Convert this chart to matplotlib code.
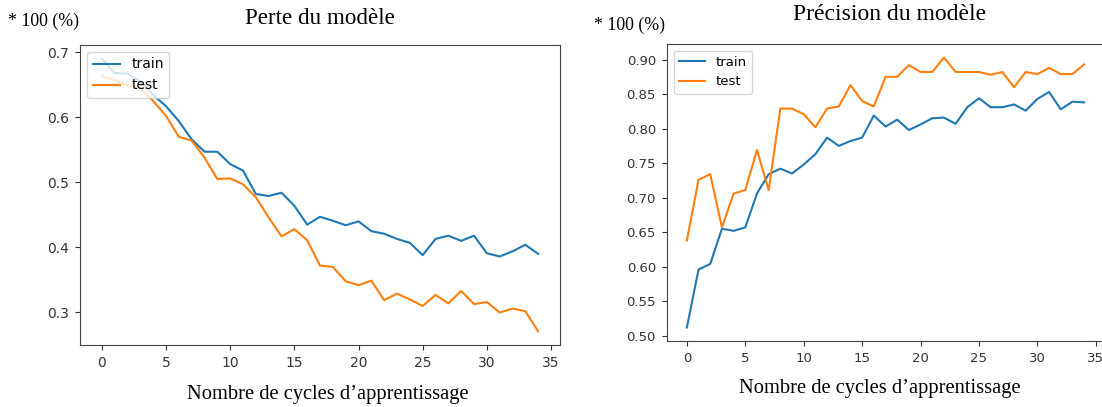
import numpy as np
import matplotlib.pyplot as plt

epochs = np.arange(35)

loss_train = [0.690, 0.668, 0.667, 0.655, 0.634, 0.617, 0.594, 0.566, 0.547, 0.547,
              0.528, 0.518, 0.482, 0.479, 0.484, 0.464, 0.435, 0.447, 0.441, 0.434,
              0.440, 0.425, 0.421, 0.413, 0.407, 0.388, 0.413, 0.418, 0.410, 0.418,
              0.391, 0.386, 0.394, 0.404, 0.390]
loss_test = [0.663, 0.657, 0.649, 0.645, 0.625, 0.602, 0.570, 0.564, 0.538, 0.505,
             0.506, 0.497, 0.477, 0.446, 0.417, 0.428, 0.411, 0.372, 0.370, 0.348,
             0.342, 0.349, 0.319, 0.329, 0.320, 0.310, 0.327, 0.314, 0.333, 0.313,
             0.316, 0.300, 0.306, 0.302, 0.271]

acc_train = [0.512, 0.596, 0.604, 0.655, 0.652, 0.657, 0.706, 0.734, 0.742, 0.735,
             0.748, 0.763, 0.787, 0.775, 0.782, 0.787, 0.819, 0.803, 0.813, 0.798,
             0.806, 0.815, 0.816, 0.807, 0.831, 0.844, 0.831, 0.831, 0.835, 0.826,
             0.843, 0.853, 0.828, 0.839, 0.838]
acc_test = [0.638, 0.726, 0.734, 0.657, 0.706, 0.711, 0.769, 0.711, 0.829, 0.829,
            0.821, 0.802, 0.829, 0.832, 0.863, 0.840, 0.832, 0.875, 0.875, 0.892,
            0.882, 0.882, 0.903, 0.882, 0.882, 0.882, 0.878, 0.882, 0.860, 0.882,
            0.879, 0.888, 0.879, 0.879, 0.893]

W, H = 1102, 407
fig = plt.figure(figsize=(W / 100, H / 100), dpi=100)

def px_axes(x0, y0, x1, y1):
    # axes box given in pixel coordinates from the top-left corner
    return fig.add_axes([x0 / W, 1 - y1 / H, (x1 - x0) / W, (y1 - y0) / H])

def px_text(x, y, s, size):
    fig.text(x / W, 1 - y / H, s, ha='center', va='center', fontsize=size,
             family='Liberation Serif')

ax1 = px_axes(80, 45, 560, 345)
ax1.plot(epochs, loss_train, label='train')
ax1.plot(epochs, loss_test, label='test')
ax1.set_yticks([0.3, 0.4, 0.5, 0.6, 0.7])
ax1.tick_params(labelsize=10)
ax1.legend(loc='upper left', fontsize=10)

ax2 = px_axes(667, 44, 1104, 341)
ax2.plot(epochs, acc_train, label='train')
ax2.plot(epochs, acc_test, label='test')
ax2.set_yticks(np.arange(0.50, 0.91, 0.05))
ax2.yaxis.set_major_formatter(plt.FormatStrFormatter('%.2f'))
ax2.tick_params(labelsize=9.5)
ax2.legend(loc='upper left', fontsize=9.5)

for ax in (ax1, ax2):
    ax.set_xticks(range(0, 36, 5))
    for s in ax.spines.values():
        s.set_color('#444444')
    ax.tick_params(colors='#333333', pad=4.5)

px_text(320, 18, 'Perte du modèle', 16.6)
px_text(890, 15, 'Précision du modèle', 17)
px_text(43, 21, '* 100 (%)', 12.8)
px_text(630, 25, '* 100 (%)', 12.8)
px_text(328, 395, 'Nombre de cycles d’apprentissage', 14.8)
px_text(880, 388, 'Nombre de cycles d’apprentissage', 14.8)

plt.savefig('out.png', dpi=100)
